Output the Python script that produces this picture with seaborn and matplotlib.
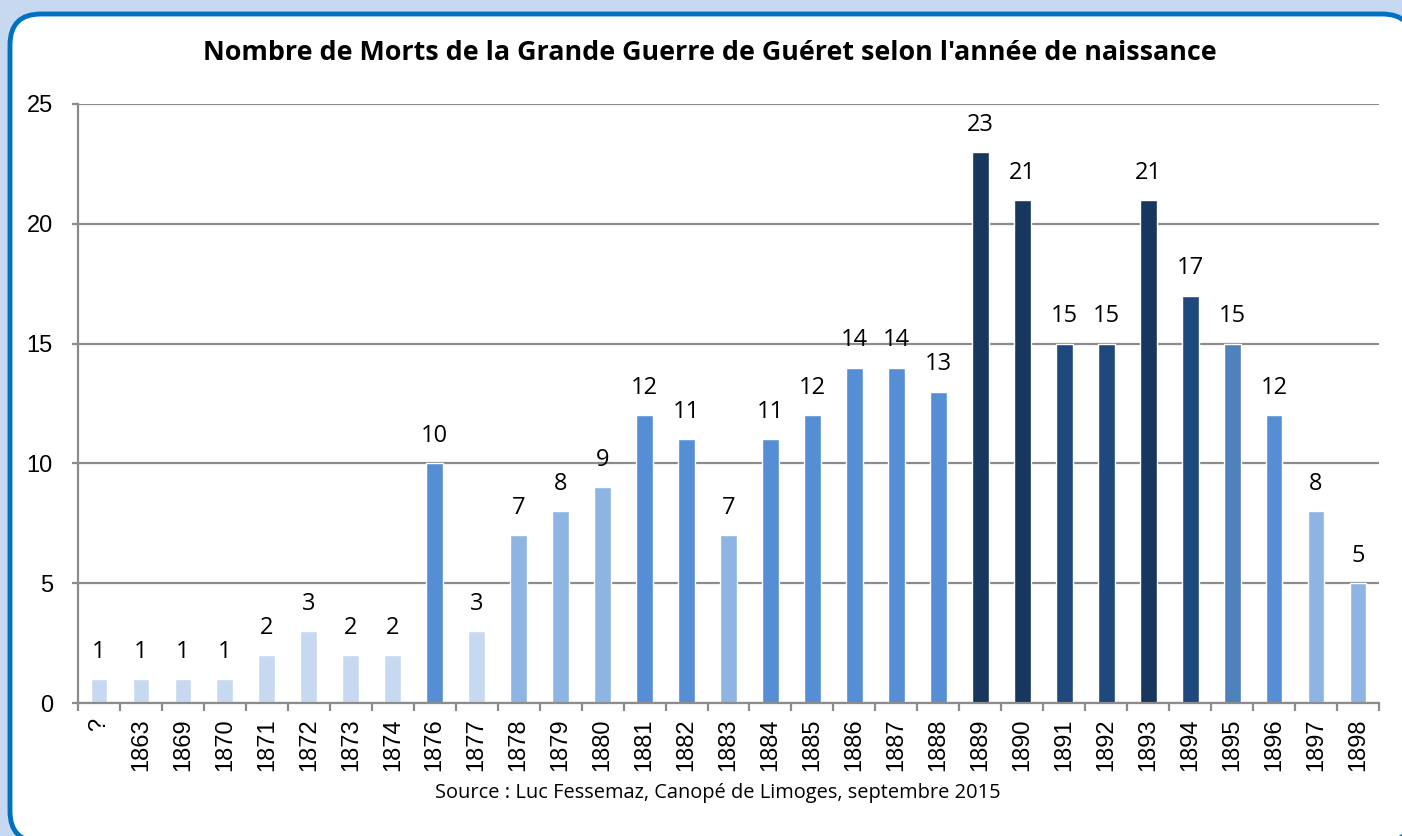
import matplotlib
matplotlib.use("Agg")
import matplotlib.pyplot as plt
import seaborn as sns
import pandas as pd
from matplotlib.patches import FancyBboxPatch

categories = ["?", "1863", "1869", "1870", "1871", "1872", "1873", "1874", "1876", "1877",
              "1878", "1879", "1880", "1881", "1882", "1883", "1884", "1885", "1886", "1887",
              "1888", "1889", "1890", "1891", "1892", "1893", "1894", "1895", "1896", "1897", "1898"]
values = [1, 1, 1, 1, 2, 3, 2, 2, 10, 3, 7, 8, 9, 12, 11, 7, 11, 12, 14, 14, 13,
          23, 21, 15, 15, 21, 17, 15, 12, 8, 5]

L, M, B, S, D, X = "#C6D9F1", "#8EB4E3", "#558ED5", "#4F81BD", "#1F497D", "#17375E"
bar_colors = [L, L, L, L, L, L, L, L, B, L,
              M, M, M, B, B, M, B, B, B, B,
              B, X, X, D, D, X, D, S, B, M, M]

title = "Nombre de Morts de la Grande Guerre de Guéret selon l'année de naissance"
source = "Source : Luc Fessemaz, Canopé de Limoges, septembre 2015"
yticks = [0, 5, 10, 15, 20, 25]

sns.set_theme(style="white")
plt.rcParams['font.family'] = ['Liberation Sans', 'DejaVu Sans']
plt.rcParams['text.color'] = 'black'
plt.rcParams['xtick.color'] = 'black'
plt.rcParams['ytick.color'] = 'black'

W, H = 1402, 836
fig = plt.figure(figsize=(W / 100, H / 100), dpi=100)
fig.patch.set_facecolor("#C6D9F1")

# white rounded panel with blue border
panel = FancyBboxPatch((10 / W, -6 / H), (1413 - 10) / W, (842 - 14) / H,
                       boxstyle="round,pad=0,rounding_size=0.022",
                       transform=fig.transFigure, facecolor="white",
                       edgecolor="#0070C0", linewidth=3.5, mutation_aspect=W / H,
                       zorder=-10)
fig.patches.append(panel)

ax = fig.add_axes([78 / W, 1 - 703 / H, (1379 - 78) / W, (703 - 104) / H])
ax.set_zorder(5)
ax.set_facecolor("none")

df = pd.DataFrame({"cat": categories, "val": values})
sns.barplot(data=df, x="cat", y="val", hue="cat", palette=bar_colors,
            width=0.4, legend=False, ax=ax, saturation=1, order=categories)

for cont in ax.containers:
    ax.bar_label(cont, padding=11, fontsize=17, family=['Open Sans', 'DejaVu Sans'],
                 color="black")

ax.set_ylim(0, 25)
ax.set_xlim(-0.5, len(categories) - 0.5)
ax.set_yticks(yticks)
ax.set_yticklabels([str(t) for t in yticks], fontsize=17)
ax.yaxis.grid(True, color="#8C8C8C", linewidth=1.6)
ax.set_axisbelow(True)

ax.set_xticks(range(len(categories)))
ax.set_xticklabels(categories, rotation=90, fontsize=17)
ax.tick_params(axis="x", length=0, pad=11)
ax.set_xticks([i - 0.5 for i in range(len(categories) + 1)], minor=True)
ax.tick_params(axis="x", which="minor", length=6, width=1.6, color="#8C8C8C", direction="out",
               bottom=True)
ax.tick_params(axis="y", length=4.5, width=1.6, color="#8C8C8C", direction="out", pad=13.5,
               left=True)

for side in ["top", "right"]:
    ax.spines[side].set_visible(False)
for side in ["left", "bottom"]:
    ax.spines[side].set_color("#8C8C8C")
    ax.spines[side].set_linewidth(1.6)

ax.set_xlabel("")
ax.set_ylabel("")

fig.text(710 / W, 1 - 53 / H, title, ha="center", va="center", fontsize=19.4,
         fontweight="bold", family=['Open Sans', 'DejaVu Sans'], color="black")
fig.text(718 / W, 1 - 793 / H, source, ha="center", va="center", fontsize=14.4,
         family=['Open Sans', 'DejaVu Sans'], color="black")

fig.savefig("out.png", dpi=100, facecolor=fig.get_facecolor())
